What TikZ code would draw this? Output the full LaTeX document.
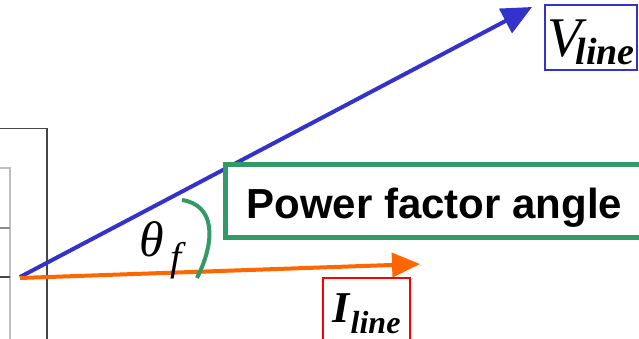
\documentclass[tikz,border=0pt]{standalone}
\usepackage{fontspec}
\setmainfont{Liberation Serif}
\newfontfamily\arialfont{Liberation Sans}
\usetikzlibrary{arrows.meta}
\definecolor{vblue}{RGB}{51,51,204}
\definecolor{iorange}{RGB}{255,102,0}
\definecolor{pfgreen}{RGB}{51,153,102}
\definecolor{darkgr}{RGB}{70,70,70}
\definecolor{lightgr}{RGB}{190,190,190}
\definecolor{midgr}{RGB}{140,140,140}
\tikzset{
  vecline/.style={line width=4pt},
  framebox/.style={inner sep=0pt, outer sep=0pt},
}
\begin{document}
\begin{tikzpicture}[x=1pt,y=-1pt]
\useasboundingbox (0,0) rectangle (639,339);
\clip (0,0) rectangle (639,339);
% background frames
\draw[darkgr, line width=1.6pt] (0,128.5) -- (47,128.5) -- (47,345);
\draw[lightgr, line width=1.8pt] (0,168) -- (10,168) -- (10,345);
\draw[midgr, line width=1.2pt] (0,228) -- (10,228);
\draw[darkgr, line width=1.2pt] (0,277) -- (10,277);
% vectors
\coordinate (O) at (20,277);
\coordinate (Vtip) at (532,7);
\coordinate (Iorig) at (20,278);
\coordinate (Itip) at (420,264);
\draw[vecline, vblue, -{Triangle[length=30pt,width=27pt]}] (O) -- (Vtip);
\draw[vecline, iorange, -{Triangle[length=28pt,width=24pt]}] (Iorig) -- (Itip);
% power factor box
\node[draw=pfgreen, fill=white, line width=4.5pt, outer sep=0pt, inner ysep=0pt, inner xsep=21pt,
      text height=53.5pt, text depth=19.5pt, anchor=base west,
      font=\arialfont\bfseries\fontsize{42}{42}\selectfont] (pf) at (225.5,218) {Power factor angle};
% angle arc
\coordinate (arcA) at (182,200);
\coordinate (arcB) at (197,278);
\draw[pfgreen, line width=4pt] (arcA) .. controls (215,205) and (216,240) .. (arcB);
% theta
\node[inner sep=0pt, anchor=base west] (theta) at (139,256)
  {\fontsize{50}{50}\selectfont\itshape θ\kern7pt\raisebox{-14pt}{\fontsize{40}{40}\selectfont f}};
% V line label
\node[draw=vblue, line width=1.3pt, framebox, minimum width=92pt,
      text height=52pt, text depth=13pt, anchor=base west] (vlab) at (545,57)
  {\fontsize{56}{56}\selectfont\itshape V\kern-6pt\raisebox{-8pt}{\fontsize{38}{38}\selectfont\bfseries\itshape line}};
% I line label
\node[draw=red, line width=1.3pt, framebox, minimum width=87pt,
      text height=44pt, text depth=38pt, anchor=base west] (ilab) at (323,322)
  {\fontsize{44}{44}\selectfont\bfseries\itshape I\kern1pt\raisebox{-11pt}{\fontsize{32}{32}\selectfont\bfseries\itshape line}};
\end{tikzpicture}
\end{document}
